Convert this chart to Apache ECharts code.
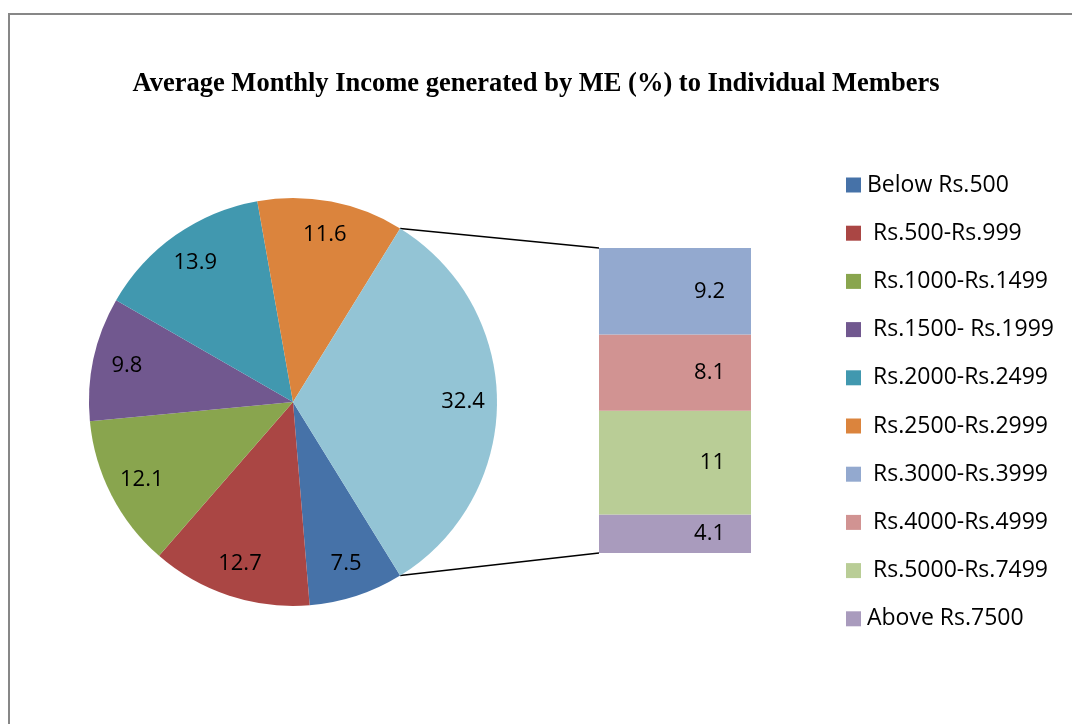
<!DOCTYPE html>
<html>
<head>
<meta charset="utf-8">
<script src="https://cdn.jsdelivr.net/npm/echarts@6/dist/echarts.min.js"></script>
<style>html,body{margin:0;padding:0;background:#fff;}#main{width:1072px;height:724px;}</style>
</head>
<body>
<div id="main"></div>
<script>
const titleText = 'Average Monthly Income generated by ME (%) to Individual Members';
const pieNames = ['Below Rs.500', ' Rs.500-Rs.999', ' Rs.1000-Rs.1499', ' Rs.1500- Rs.1999', ' Rs.2000-Rs.2499', ' Rs.2500-Rs.2999'];
const pieValues = [7.5, 12.7, 12.1, 9.8, 13.9, 11.6];
const pieColors = ['#4672A8', '#AA4644', '#89A54E', '#71588F', '#4198AF', '#DB843D'];
const otherName = 'Other';
const otherValue = 32.4;
const otherColor = '#93C4D5';
const barNames = [' Rs.3000-Rs.3999', ' Rs.4000-Rs.4999', ' Rs.5000-Rs.7499', 'Above Rs.7500'];
const barValues = [9.2, 8.1, 11, 4.1];
const barColors = ['#93A9CF', '#D19392', '#B9CD96', '#A99BBD'];

const total = pieValues.reduce((a, b) => a + b, 0) + otherValue;
const otherAngle = otherValue / total * 360;
const startAngle = -otherAngle / 2;
const pieCenter = [293, 402];
const pieR = 204;
const labelFont = 'Open Sans';
const labelSize = 22;

const pieData = pieNames.map((n, i) => ({ name: n, value: pieValues[i], itemStyle: { color: pieColors[i] } }));
pieData.push({ name: otherName, value: otherValue, itemStyle: { color: otherColor } });

const labelData = pieNames.map((n, i) => ({ name: n, value: pieValues[i] }));
labelData.push({ name: otherName, value: otherValue });

const barSeries = [];
for (let i = barNames.length - 1; i >= 0; i--) {
  barSeries.push({
    type: 'bar', name: barNames[i], stack: 'other', barWidth: '100%',
    data: [barValues[i]],
    itemStyle: { color: barColors[i] },
    label: { show: true, position: 'insideRight', distance: 26, color: '#000', fontSize: labelSize, fontFamily: labelFont },
    silent: true
  });
}

const chart = echarts.init(document.getElementById('main'));
const gridLeft = 599, gridTop = 248, gridW = 152, gridH = 305;
chart.setOption({
  animation: false,
  title: { text: titleText, left: 'center', top: 66, textStyle: { fontFamily: 'Liberation Serif', fontWeight: 'bold', fontSize: 26.5, color: '#000' } },
  legend: {
    orient: 'vertical', left: 846, top: 173, padding: 0, itemWidth: 15, itemHeight: 15, itemGap: 24.2, icon: 'rect',
    data: pieNames.concat(barNames),
    selectedMode: false,
    textStyle: { fontFamily: labelFont, fontSize: 23, color: '#000', lineHeight: 24, padding: [0, 0, 0, 1] }
  },
  grid: { left: gridLeft, top: gridTop, width: gridW, height: gridH },
  xAxis: { type: 'category', data: [otherName], show: false },
  yAxis: { type: 'value', min: 0, max: total - pieValues.reduce((a, b) => a + b, 0), show: false },
  series: [
    {
      type: 'pie', center: pieCenter, radius: pieR, startAngle: startAngle, clockwise: true,
      data: pieData, label: { show: false }, labelLine: { show: false }, silent: true,
      itemStyle: { borderWidth: 0 }
    },
    {
      type: 'pie', center: pieCenter, radius: [130, pieR], startAngle: startAngle, clockwise: true,
      data: labelData, silent: true,
      itemStyle: { color: 'rgba(0,0,0,0)' },
      label: { show: true, position: 'inside', formatter: '{c}', color: '#000', fontSize: labelSize, fontFamily: labelFont },
      labelLine: { show: false }
    }
  ].concat(barSeries),
  graphic: []
});

// connector lines from the "Other" slice edges to the bar corners
const otherSum = barValues.reduce((a, b) => a + b, 0);
const topPt = chart.convertToPixel({ xAxisIndex: 0, yAxisIndex: 0 }, [0, otherSum]);
const botPt = chart.convertToPixel({ xAxisIndex: 0, yAxisIndex: 0 }, [0, 0]);
const a = otherAngle / 2 * Math.PI / 180;
const p1 = [pieCenter[0] + pieR * Math.cos(a), pieCenter[1] - pieR * Math.sin(a)];
const p2 = [pieCenter[0] + pieR * Math.cos(a), pieCenter[1] + pieR * Math.sin(a)];
chart.setOption({
  graphic: [
    { type: 'rect', shape: { x: 9, y: 14, width: 1100, height: 800 }, style: { fill: 'none', stroke: '#878787', lineWidth: 2 }, silent: true, z: 100 },
    { type: 'line', shape: { x1: p1[0], y1: p1[1], x2: gridLeft, y2: topPt[1] }, style: { stroke: '#000', lineWidth: 1.5 }, silent: true },
    { type: 'line', shape: { x1: p2[0], y1: p2[1], x2: gridLeft, y2: botPt[1] }, style: { stroke: '#000', lineWidth: 1.5 }, silent: true }
  ]
});
</script>
</body>
</html>
